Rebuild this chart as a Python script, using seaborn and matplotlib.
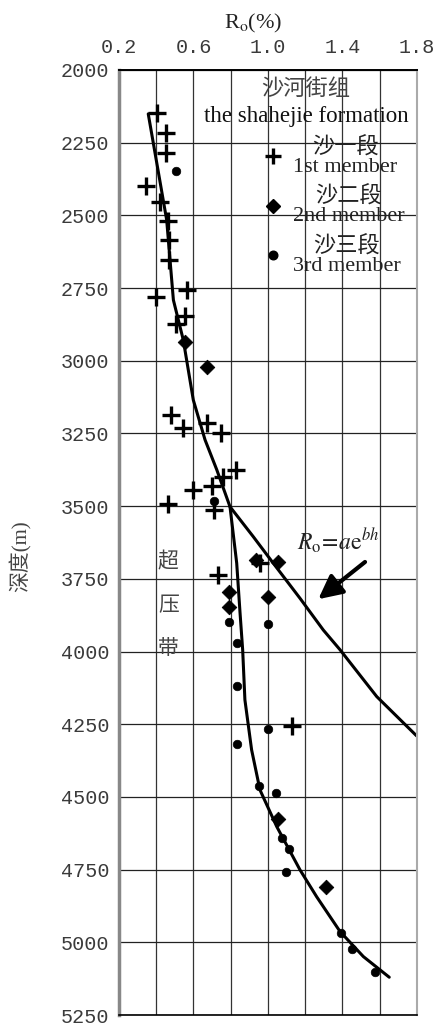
import matplotlib
matplotlib.use("Agg")
import matplotlib.pyplot as plt
from matplotlib.lines import Line2D
from matplotlib.ticker import MultipleLocator
import seaborn as sns
import pandas as pd

# 沙一段 (1st member) samples: Ro (%) and depth (m)
m1_ro = [0.404, 0.451, 0.451, 0.345, 0.420, 0.465, 0.470, 0.470, 0.567, 0.399,
         0.554, 0.506, 0.478, 0.545, 0.674, 0.746, 0.827, 0.757, 0.698, 0.596,
         0.465, 0.712, 0.957, 0.733, 1.127]
m1_depth = [2148, 2218, 2286, 2399, 2453, 2521, 2585, 2653, 2757, 2782,
            2846, 2873, 3186, 3232, 3213, 3249, 3376, 3399, 3431, 3444,
            3493, 3513, 3696, 3737, 4256]

# 沙二段 (2nd member)
m2_ro = [0.554, 0.671, 0.933, 1.055, 0.792, 1.002, 0.792, 1.052, 1.311]
m2_depth = [2934, 3022, 3685, 3691, 3794, 3811, 3848, 4577, 4810]

# 沙三段 (3rd member)
m3_ro = [0.506, 0.712, 0.792, 1.002, 0.832, 0.832, 1.002, 0.835, 0.950,
         1.041, 1.074, 1.115, 1.097, 1.390, 1.453, 1.575]
m3_depth = [2346, 3481, 3900, 3906, 3969, 4118, 4267, 4318, 4461,
            4487, 4642, 4680, 4757, 4967, 5024, 5101]

# normal trend Ro = a*e^(bh)
trend_ro = [0.357, 0.456, 0.492, 0.545, 0.599, 0.662, 0.725, 0.796,
            0.921, 1.028, 1.172, 1.297, 1.387, 1.584, 1.798]
trend_depth = [2151, 2516, 2791, 2928, 3135, 3272, 3375, 3502,
               3605, 3696, 3817, 3926, 3994, 4155, 4290]

# measured trend through the overpressure zone
op_ro = [0.796, 0.832, 0.850, 0.864, 0.876, 0.912, 0.957, 1.047,
         1.172, 1.261, 1.387, 1.512, 1.651]
op_depth = [3502, 3696, 3868, 3994, 4166, 4338, 4476, 4602,
            4751, 4843, 4963, 5049, 5120]

x_ticks = [0.2, 0.6, 1.0, 1.4, 1.8]
y_ticks = list(range(2000, 5251, 250))

sns.set_theme(style="white")
plt.rcParams['font.family'] = ['Liberation Serif', 'Noto Sans CJK SC']
plt.rcParams['mathtext.fontset'] = 'stix'

fig = plt.figure(figsize=(4.34, 10.26), dpi=100)
ax = fig.add_axes([0.2742, 0.0107, 0.6866, 0.9211])

# curves
sns.lineplot(data=pd.DataFrame({'ro': trend_ro, 'depth': trend_depth}), x='ro', y='depth',
             sort=False, estimator=None, color='black', lw=2.2, ax=ax)
sns.lineplot(data=pd.DataFrame({'ro': op_ro, 'depth': op_depth}), x='ro', y='depth',
             sort=False, estimator=None, color='black', lw=2.2, ax=ax)

# samples
sns.scatterplot(x=m1_ro, y=m1_depth, marker='+', s=150, color='black', linewidth=2.4, ax=ax, zorder=3)
sns.scatterplot(x=m2_ro, y=m2_depth, marker='D', s=55, color='black', edgecolor='black', ax=ax, zorder=3)
sns.scatterplot(x=m3_ro, y=m3_depth, marker='o', s=38, color='black', edgecolor='black', ax=ax, zorder=3)

ax.set_xlim(0.2, 1.8)
ax.set_ylim(5250, 2000)
ax.xaxis.tick_top()
ax.set_xticks(x_ticks)
ax.set_xticklabels([f"{v:.1f}" for v in x_ticks])
ax.xaxis.set_minor_locator(MultipleLocator(0.2))
ax.set_yticks(y_ticks)
ax.set_yticklabels([str(v) for v in y_ticks])
ax.grid(True, which='both', axis='x', color='#333333', lw=0.9)
ax.grid(True, which='major', axis='y', color='#222222', lw=0.9)
ax.tick_params(axis='both', which='both', length=0)
ax.tick_params(axis='x', pad=9)
ax.tick_params(axis='y', pad=7)
for lab in ax.get_xticklabels() + ax.get_yticklabels():
    lab.set_family('Liberation Mono')
    lab.set_fontsize(14.5)
    lab.set_color('#3a3a3a')

ax.spines['left'].set_color('#888888')
ax.spines['left'].set_linewidth(2.5)
ax.spines['right'].set_color('#aaaaaa')
ax.spines['right'].set_linewidth(1.5)
ax.spines['top'].set_color('black')
ax.spines['top'].set_linewidth(1.4)
ax.spines['bottom'].set_color('black')
ax.spines['bottom'].set_linewidth(1.2)

ax.xaxis.set_label_position('top')
ax.set_xlabel(r"R$_{\rm o}$(%)", fontsize=16, color='#222222')
ax.xaxis.set_label_coords(0.45, 1.044)
ax.set_ylabel("深度(m)", fontsize=15, color='#444444', fontweight='light')
ax.yaxis.set_label_coords(-0.292, 0.485)

# group heading
ax.text(0.6275, 0.9788, "沙河街组", transform=ax.transAxes, ha='center', va='center',
        fontsize=16, color='#444444', fontweight='light')
ax.text(0.6275, 0.9503, "the shahejie formation", transform=ax.transAxes, ha='center',
        va='center', fontsize=16.5, color='#111111')

handles = [Line2D([], [], ls='none', marker='+', ms=12, mew=2.4, color='black'),
           Line2D([], [], ls='none', marker='D', ms=7.5, color='black'),
           Line2D([], [], ls='none', marker='o', ms=6.2, color='black')]
labels = ["沙一段\n1st member", "沙二段\n2nd member", "沙三段\n3rd member"]
leg = ax.legend(handles, labels, loc='upper left', bbox_to_anchor=(0.48, 0.929),
                frameon=False, fontsize=16, handlelength=1.0, handletextpad=0.4,
                labelspacing=0.45, borderpad=0, borderaxespad=0)
for t in leg.get_texts():
    t.set_multialignment('center')
    t.set_linespacing(0.95)
    t.set_color('#222222')

# overpressure zone label
for ch, d in zip("超压带", [3695, 3847, 3994]):
    ax.text(0.465, d, ch, ha='center', va='center', fontsize=15, color='#444444',
            fontweight='light')

ax.text(1.376, 3623, r"$R_{\rm o}\!=\!a{\rm e}^{bh}$", ha='center', va='center',
        fontsize=17, color='#222222')
ax.annotate("", xy=(1.270, 3820), xytext=(1.521, 3692),
            arrowprops=dict(arrowstyle='-|>,head_length=0.9,head_width=0.45', lw=3,
                            color='black', mutation_scale=16, shrinkA=0, shrinkB=0))

fig.savefig("out.png", dpi=100)
